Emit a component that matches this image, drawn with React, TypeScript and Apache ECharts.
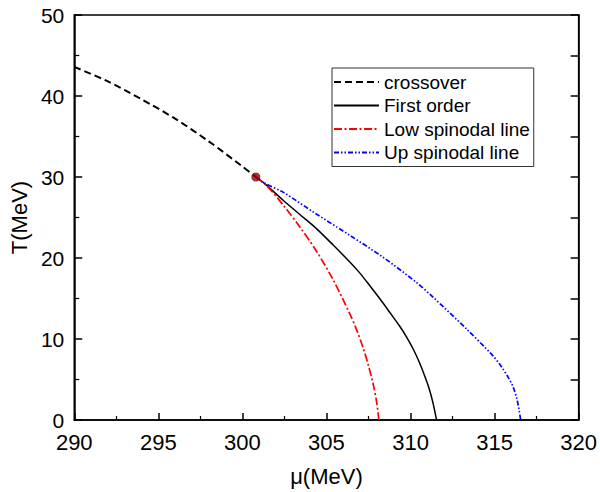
import React, { useEffect, useRef } from "react";
import * as echarts from "echarts";

const crossoverMu = [290, 292, 294, 296, 298, 300, 300.8];
const crossoverT = [43.6, 41.8, 39.6, 37.2, 34.4, 31.3, 30.0];

const firstMu = [300.8, 301.26, 302.44, 303.4, 304.42, 305.4, 306.39, 307.0, 307.57, 308.2, 308.76, 309.35, 309.75, 310.15, 310.53, 310.85, 311.12, 311.35, 311.55];
const firstT = [30.0, 29.3, 27.1, 25.4, 23.6, 21.6, 19.5, 18.1, 16.6, 14.9, 13.3, 11.6, 10.3, 8.8, 7.1, 5.4, 3.8, 2.0, 0];

const lowMu = [300.8, 301.46, 302.44, 303.43, 304.42, 305.4, 306.39, 306.8, 307.18, 307.5, 307.77, 307.97, 308.12];
const lowT = [30.0, 28.9, 26.5, 23.8, 20.8, 17.3, 13.1, 11.1, 8.9, 6.7, 4.5, 2.4, 0];

const upMu = [300.8, 301.26, 302.44, 304.42, 306.39, 308.36, 310.34, 311.32, 313.3, 314.87, 315.4, 315.8, 316.1, 316.35, 316.55];
const upT = [30.0, 29.3, 28.1, 25.4, 22.8, 20.1, 17.0, 15.2, 11.3, 8.0, 6.6, 5.3, 4.1, 2.4, 0];

const critMu = [300.8];
const critT = [30.0];

const seriesNames = ["crossover", "First order", "Low spinodal line", "Up spinodal line"];

const font = '"Liberation Sans", Arial, sans-serif';

const pairs = (xs: number[], ys: number[]) => xs.map((x, i) => [x, ys[i]]);

export default function App() {
  const ref = useRef<HTMLDivElement>(null);
  useEffect(() => {
    document.body.style.margin = "0";
    const chart = echarts.init(ref.current!, null, { renderer: "svg" });
    chart.setOption({
      animation: false,
      backgroundColor: "#fff",
      textStyle: { fontFamily: font },
      grid: {
        left: 73,
        top: 15,
        right: 21,
        bottom: 70,
        show: true,
        borderColor: "#000",
        borderWidth: 1.5,
      },
      legend: {
        orient: "vertical",
        left: 332,
        top: 68,
        data: seriesNames,
        itemWidth: 45,
        itemHeight: 10,
        itemGap: 1.5,
        itemStyle: { opacity: 0 },
        borderColor: "#333",
        borderWidth: 1,
        borderRadius: 0,
        padding: [3, 4, 3, 1],
        textStyle: { fontSize: 19, lineHeight: 22, color: "#000", fontFamily: font },
      },
      xAxis: {
        type: "value",
        min: 290,
        max: 320,
        interval: 5,
        name: "μ(MeV)",
        nameLocation: "middle",
        nameGap: 45,
        nameTextStyle: { fontSize: 22, color: "#000", fontFamily: font },
        axisLine: { lineStyle: { color: "#000", width: 1.5 } },
        axisTick: { inside: true, length: 7, lineStyle: { color: "#000", width: 1.5 } },
        minorTick: { show: true, splitNumber: 2, length: 4, lineStyle: { color: "#000", width: 1.2 } },
        axisLabel: { fontSize: 22, lineHeight: 17, color: "#000", margin: 14, fontFamily: font },
        splitLine: { show: false },
      },
      yAxis: [
        {
          type: "value",
          min: 0,
          max: 50,
          interval: 10,
          name: "T(MeV)",
          nameLocation: "middle",
          nameGap: 40,
          nameTextStyle: { fontSize: 22, color: "#000", fontFamily: font },
          axisLine: { lineStyle: { color: "#000", width: 1.5 } },
          axisTick: { inside: true, length: 8, lineStyle: { color: "#000", width: 1.5 } },
          minorTick: { show: true, splitNumber: 2, length: 5, lineStyle: { color: "#000", width: 1.2 } },
          axisLabel: { fontSize: 21, lineHeight: 17, color: "#000", margin: 10, fontFamily: font },
          splitLine: { show: false },
        },
        {
          type: "value",
          position: "right",
          min: 0,
          max: 50,
          interval: 5,
          axisLine: { show: true, lineStyle: { color: "#000", width: 1.5 } },
          axisTick: { show: true, inside: true, length: 8, lineStyle: { color: "#000", width: 1.5 } },
          axisLabel: { show: false },
          splitLine: { show: false },
        },
      ],
      series: [
        {
          name: "crossover",
          type: "line",
          data: pairs(crossoverMu, crossoverT),
          smooth: 0.3,
          symbol: "none",
          lineStyle: { color: "#000", width: 2, type: [7, 4] },
          itemStyle: { color: "#000" },
        },
        {
          name: "First order",
          type: "line",
          data: pairs(firstMu, firstT),
          smooth: 0.3,
          symbol: "none",
          lineStyle: { color: "#000", width: 1.5, type: "solid" },
          itemStyle: { color: "#000" },
        },
        {
          name: "Low spinodal line",
          type: "line",
          data: pairs(lowMu, lowT),
          smooth: 0.3,
          symbol: "none",
          lineStyle: { color: "#ff0000", width: 1.7, type: [8, 2.5, 2, 2.5] },
          itemStyle: { color: "#ff0000" },
        },
        {
          name: "Up spinodal line",
          type: "line",
          data: pairs(upMu, upT),
          smooth: 0.3,
          symbol: "none",
          lineStyle: { color: "#0000ff", width: 1.7, type: [5, 2, 1.5, 2, 1.5, 2] },
          itemStyle: { color: "#0000ff" },
        },
        {
          name: "critical point",
          type: "scatter",
          data: pairs(critMu, critT),
          symbol: "circle",
          symbolSize: 9,
          itemStyle: { color: "#8b0000" },
          z: 5,
        },
      ],
    });
    return () => chart.dispose();
  }, []);
  return <div ref={ref} style={{ width: 600, height: 492 }} />;
}
